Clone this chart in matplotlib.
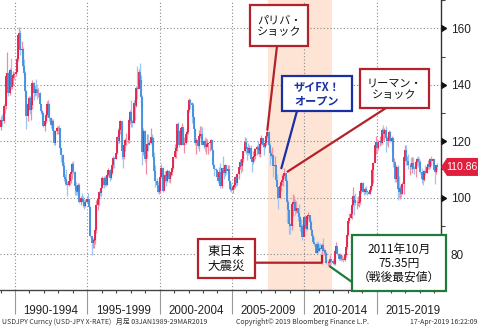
import matplotlib
matplotlib.use("Agg")
import numpy as np
import matplotlib.pyplot as plt
from matplotlib.patches import Rectangle, Polygon, ConnectionPatch
from matplotlib.transforms import blended_transform_factory

JP = ["Noto Sans CJK JP", "DejaVu Sans"]
NARROW = ["Liberation Sans Narrow", "Liberation Sans", "DejaVu Sans"]
FOOT = ["Liberation Sans Narrow", "Noto Sans CJK JP", "DejaVu Sans"]

# USD/JPY monthly bars, Jan 1989 - Mar 2019 (one row per year)
start_year = 1989
first_open = 125.0
monthly_close = [
    127.4, 127.0, 132.6, 132.5, 143.0, 144.1, 137.0, 145.3, 139.3, 142.5, 143.5, 143.8,
    144.5, 149.0, 157.6, 158.5, 152.3, 152.8, 146.5, 144.0, 137.8, 129.0, 133.3, 135.4,
    131.0, 132.8, 140.5, 137.0, 138.6, 138.0, 137.0, 137.2, 133.0, 130.6, 129.9, 125.2,
    127.2, 129.4, 133.0, 133.0, 128.2, 125.6, 127.2, 123.5, 119.5, 123.5, 124.5, 124.8,
    124.5, 117.7, 115.0, 111.1, 107.3, 106.5, 104.8, 104.5, 105.8, 108.5, 109.1, 111.8,
    109.0, 104.0, 102.5, 102.0, 104.3, 98.5, 100.0, 99.5, 98.5, 97.0, 98.5, 99.6,
    99.5, 96.6, 86.5, 84.0, 84.5, 84.8, 88.5, 97.5, 99.5, 102.0, 101.5, 103.3,
    107.0, 104.5, 107.0, 104.5, 108.0, 109.6, 106.8, 108.6, 111.5, 114.0, 113.8, 115.8,
    121.5, 120.2, 124.0, 127.0, 116.5, 114.5, 118.5, 120.5, 120.5, 120.5, 127.5, 130.5,
    127.0, 126.5, 133.5, 132.5, 139.0, 138.5, 144.5, 141.5, 135.5, 116.0, 123.5, 113.5,
    116.5, 119.0, 118.5, 119.5, 121.5, 121.0, 114.5, 109.5, 106.0, 104.5, 102.0, 102.2,
    107.3, 110.5, 102.5, 108.0, 107.8, 106.0, 109.5, 106.7, 108.0, 109.0, 110.5, 114.4,
    116.5, 117.4, 126.0, 123.5, 118.8, 124.7, 125.0, 118.8, 119.3, 122.4, 123.4, 131.0,
    134.7, 133.4, 132.7, 128.5, 124.2, 119.5, 120.5, 118.4, 121.8, 122.5, 122.4, 118.8,
    119.9, 117.8, 118.0, 119.0, 119.3, 119.8, 120.5, 116.8, 111.4, 110.0, 109.6, 107.2,
    105.9, 109.1, 104.2, 110.4, 109.5, 108.7, 111.4, 109.3, 110.1, 105.8, 103.2, 102.6,
    103.6, 104.6, 107.2, 105.0, 108.5, 110.9, 112.5, 111.1, 113.5, 116.4, 119.8, 117.8,
    117.2, 115.8, 117.7, 113.8, 112.5, 114.4, 114.6, 117.2, 118.0, 116.8, 115.6, 119.0,
    121.1, 118.6, 117.8, 119.5, 121.7, 123.2, 118.6, 115.8, 114.8, 115.2, 111.1, 111.7,
    106.4, 103.8, 99.7, 104.0, 105.5, 106.2, 107.8, 108.8, 106.0, 98.4, 95.5, 90.6,
    89.9, 97.6, 98.3, 98.6, 95.3, 96.4, 94.7, 93.0, 89.7, 90.1, 86.1, 93.0,
    90.3, 88.9, 93.5, 94.0, 91.3, 88.4, 86.5, 84.2, 83.5, 80.4, 83.7, 81.1,
    82.0, 81.8, 83.1, 81.2, 81.5, 80.5, 76.7, 76.7, 77.1, 78.2, 77.6, 76.9,
    76.3, 81.2, 82.9, 80.0, 78.4, 79.8, 78.1, 78.4, 77.9, 79.8, 82.5, 86.7,
    91.7, 92.6, 94.2, 97.4, 100.5, 99.1, 97.9, 98.2, 98.2, 98.4, 102.4, 105.3,
    102.0, 101.8, 103.2, 102.2, 101.8, 101.3, 102.8, 104.1, 109.6, 112.3, 118.6, 119.8,
    117.5, 119.6, 120.1, 119.4, 124.1, 122.4, 123.9, 121.2, 119.9, 120.6, 123.1, 120.2,
    121.1, 112.6, 112.6, 106.5, 110.7, 103.2, 102.1, 103.4, 101.4, 104.8, 114.5, 117.0,
    112.8, 112.8, 111.4, 111.5, 110.8, 112.4, 110.3, 110.0, 112.5, 113.7, 112.5, 112.7,
    109.2, 106.7, 106.3, 109.3, 108.8, 110.8, 111.9, 111.0, 113.7, 112.9, 113.5, 109.7,
    108.9, 111.4, 110.86,
]
monthly_high = [
    129.0, 129.5, 133.2, 134.0, 144.0, 151.5, 144.5, 146.0, 149.5, 143.5, 145.0, 144.5,
    146.0, 150.0, 158.0, 160.3, 159.5, 155.5, 153.5, 149.0, 145.0, 138.0, 133.8, 136.0,
    136.0, 134.0, 141.5, 141.0, 140.0, 142.0, 139.5, 139.0, 137.5, 133.0, 131.0, 130.5,
    127.5, 130.5, 134.2, 134.6, 133.5, 128.5, 128.0, 128.0, 124.0, 124.0, 125.5, 125.5,
    125.8, 124.5, 118.0, 115.5, 112.5, 108.5, 110.0, 105.8, 108.0, 108.8, 109.5, 112.5,
    113.0, 109.5, 105.5, 104.0, 105.0, 105.0, 100.5, 101.5, 100.5, 99.5, 99.5, 100.5,
    101.5, 99.5, 97.0, 86.0, 85.5, 85.5, 89.0, 99.0, 100.5, 102.5, 102.0, 103.5,
    107.5, 107.5, 107.5, 108.0, 108.5, 110.5, 110.0, 108.8, 111.8, 114.8, 114.5, 116.0,
    122.0, 124.8, 124.5, 127.5, 127.0, 116.5, 118.8, 121.0, 123.0, 122.5, 128.5, 131.0,
    134.5, 127.5, 134.5, 135.5, 139.5, 146.5, 145.5, 147.6, 143.5, 136.5, 124.5, 123.8,
    116.8, 122.5, 122.5, 120.5, 124.8, 122.5, 121.5, 116.0, 111.5, 107.0, 106.0, 104.0,
    107.5, 111.8, 111.0, 108.5, 109.5, 108.0, 110.0, 109.8, 108.5, 109.8, 111.2, 114.5,
    119.0, 118.0, 126.5, 126.8, 124.0, 125.0, 126.5, 125.0, 121.5, 123.5, 125.0, 131.5,
    135.2, 135.0, 133.8, 133.5, 128.5, 124.5, 121.0, 120.5, 124.0, 125.5, 125.5, 125.0,
    120.5, 121.5, 121.0, 120.8, 119.5, 120.0, 120.8, 120.5, 117.0, 111.8, 110.5, 109.8,
    107.5, 111.0, 112.2, 110.5, 114.8, 111.0, 112.0, 111.5, 111.5, 111.5, 106.0, 105.0,
    104.5, 106.0, 107.5, 108.0, 108.8, 111.0, 113.8, 112.0, 113.8, 116.5, 121.4, 121.0,
    117.8, 119.5, 118.8, 118.5, 114.0, 116.5, 117.5, 117.5, 118.5, 119.9, 118.0, 119.2,
    122.2, 121.0, 118.5, 120.0, 122.0, 124.1, 123.7, 119.5, 117.0, 117.9, 115.5, 114.7,
    109.7, 108.5, 103.8, 105.0, 106.0, 108.5, 108.5, 110.6, 108.5, 106.5, 99.0, 96.0,
    91.0, 98.5, 101.4, 100.5, 99.5, 98.8, 95.5, 97.8, 93.5, 92.3, 90.5, 93.1,
    93.7, 91.5, 93.8, 94.9, 94.0, 92.0, 89.0, 87.0, 85.9, 84.0, 84.3, 84.5,
    83.7, 84.0, 84.0, 85.5, 82.0, 81.5, 81.0, 77.8, 77.8, 79.5, 78.2, 78.3,
    77.8, 81.5, 84.2, 82.0, 80.5, 80.5, 79.9, 79.5, 78.9, 80.3, 82.8, 86.7,
    91.8, 94.5, 96.7, 99.9, 103.7, 100.9, 101.5, 99.0, 100.6, 99.0, 102.6, 105.4,
    105.4, 102.8, 103.8, 104.1, 102.8, 102.8, 103.2, 104.5, 110.1, 112.5, 118.9, 121.8,
    120.5, 120.5, 122.0, 120.8, 124.5, 125.9, 124.6, 125.3, 121.7, 121.5, 123.8, 123.6,
    121.7, 121.5, 114.0, 112.0, 111.5, 111.5, 107.5, 104.3, 104.2, 105.5, 114.8, 118.7,
    118.6, 114.9, 115.5, 112.2, 114.4, 114.5, 114.5, 111.1, 113.3, 114.5, 114.7, 114.0,
    113.4, 110.5, 107.0, 109.8, 111.4, 110.9, 113.2, 111.8, 113.9, 114.6, 114.2, 113.8,
    110.0, 111.5, 112.1,
]
monthly_low = [
    123.8, 125.5, 126.5, 130.0, 131.5, 138.0, 136.0, 136.5, 138.5, 138.5, 140.0, 142.0,
    143.0, 144.5, 148.5, 155.0, 150.5, 151.5, 145.5, 143.0, 135.5, 124.2, 127.0, 131.0,
    129.5, 127.5, 131.5, 134.5, 136.0, 136.5, 135.0, 135.5, 132.5, 129.5, 128.0, 125.0,
    123.5, 126.5, 128.5, 131.0, 127.0, 124.5, 124.5, 122.5, 118.5, 118.5, 122.5, 122.5,
    123.0, 116.5, 112.5, 110.0, 106.0, 104.5, 104.5, 100.4, 104.0, 104.5, 105.0, 106.5,
    108.5, 101.0, 101.0, 101.0, 101.5, 98.0, 97.5, 98.5, 96.5, 96.0, 96.5, 98.0,
    98.0, 96.5, 86.0, 79.8, 82.0, 82.0, 83.5, 87.5, 95.5, 97.5, 100.5, 100.5,
    103.3, 103.5, 104.0, 104.0, 104.5, 107.5, 106.0, 106.5, 108.5, 110.5, 110.5, 113.5,
    115.5, 119.5, 119.5, 122.5, 113.5, 110.6, 113.5, 116.5, 118.5, 119.5, 119.5, 126.0,
    125.0, 125.0, 126.5, 127.5, 132.0, 135.0, 139.0, 140.5, 132.5, 111.5, 115.0, 112.5,
    108.5, 114.0, 116.5, 118.5, 119.0, 118.0, 113.5, 109.0, 103.8, 104.0, 101.5, 101.2,
    101.5, 107.0, 102.0, 103.5, 105.5, 104.0, 105.5, 105.5, 105.0, 107.5, 108.0, 110.0,
    114.0, 114.0, 116.5, 120.5, 118.0, 118.5, 122.0, 118.5, 115.8, 119.0, 120.5, 122.5,
    130.5, 131.5, 126.5, 127.5, 123.0, 118.5, 115.5, 117.5, 116.5, 121.0, 120.5, 118.5,
    117.5, 116.5, 115.5, 117.8, 115.5, 116.5, 117.5, 116.5, 110.8, 107.5, 107.5, 106.8,
    105.0, 104.5, 103.5, 103.5, 108.5, 106.5, 107.5, 108.5, 108.5, 105.5, 102.5, 101.8,
    101.7, 103.0, 103.5, 104.2, 104.5, 106.5, 110.0, 108.8, 109.5, 112.5, 116.0, 115.5,
    113.4, 115.0, 115.5, 113.5, 108.9, 111.8, 113.0, 113.8, 115.0, 116.5, 114.8, 114.5,
    118.5, 118.0, 115.2, 117.5, 118.5, 121.0, 118.5, 111.6, 114.0, 114.0, 107.2, 110.5,
    105.5, 103.0, 95.8, 99.8, 102.5, 104.5, 104.0, 107.0, 103.5, 90.9, 92.5, 87.1,
    87.1, 88.5, 93.5, 95.5, 94.0, 94.5, 91.8, 92.5, 88.2, 88.0, 84.8, 86.5,
    89.5, 88.2, 88.5, 92.5, 89.0, 88.0, 86.0, 83.6, 82.8, 80.2, 80.3, 80.5,
    81.0, 81.5, 76.3, 81.0, 79.5, 79.7, 76.5, 75.9, 75.6, 75.35, 76.5, 76.5,
    76.0, 76.0, 80.8, 79.8, 78.0, 77.7, 77.6, 78.0, 77.1, 77.6, 79.1, 81.7,
    86.5, 91.0, 92.6, 92.5, 97.0, 93.8, 97.5, 95.8, 96.9, 96.6, 97.6, 101.6,
    101.8, 100.8, 101.2, 101.4, 100.8, 101.1, 101.1, 102.4, 104.0, 105.2, 112.5, 115.6,
    115.9, 116.8, 118.3, 118.5, 118.9, 120.4, 120.4, 116.2, 118.7, 118.1, 120.1, 119.7,
    116.5, 111.0, 110.7, 105.5, 105.5, 99.0, 100.0, 99.5, 100.1, 101.2, 101.2, 113.0,
    111.6, 111.7, 110.1, 108.1, 110.2, 108.8, 110.0, 108.3, 107.3, 111.7, 110.8, 112.0,
    108.3, 105.3, 104.6, 105.9, 108.1, 108.8, 110.3, 109.8, 110.4, 111.4, 111.4, 109.6,
    104.8, 108.4, 109.7,
]

period_starts = [1990, 1995, 2000, 2005, 2010, 2015]
period_labels = ["1990-1994", "1995-1999", "2000-2004", "2005-2009", "2010-2014", "2015-2019"]
price_ticks = [80, 100, 120, 140, 160]
shaded_years = (2007.5, 2011.95)

RED = "#E31C48"
BLUE = "#3E8EDE"
RED_WICK = "#F28CA3"
BLUE_WICK = "#9CC6F0"
BOX_RED = "#B3222B"
BOX_BLUE = "#1A2FA3"
BOX_GREEN = "#1F7A3C"

W, H = 478, 330
fig = plt.figure(figsize=(W / 100, H / 100), dpi=100)
ax = fig.add_axes([0, 40 / H, 441 / W, 290 / H])
ax.set_xlim(1988.963, 2019.46)
ax.set_ylim(67.24, 170.03)

# candles
closes = np.array(monthly_close)
highs = np.array(monthly_high)
lows = np.array(monthly_low)
opens = np.r_[first_open, closes[:-1]]
t = start_year + (np.arange(len(closes)) + 0.5) / 12.0
up = closes >= opens

ax.axvspan(*shaded_years, color="#FDE4D5", lw=0, zorder=0)
ax.vlines(t[up], lows[up], highs[up], color=RED_WICK, lw=0.9, zorder=2)
ax.vlines(t[~up], lows[~up], highs[~up], color=BLUE_WICK, lw=0.9, zorder=2)
ax.vlines(t[up], opens[up], closes[up], color=RED, lw=1.3, zorder=3)
ax.vlines(t[~up], opens[~up], closes[~up], color=BLUE, lw=1.3, zorder=3)

# axes styling
for side in ("top", "left"):
    ax.spines[side].set_visible(False)
ax.spines["right"].set_color("#333333")
ax.spines["bottom"].set_color("#444444")
ax.spines["right"].set_linewidth(1.0)
ax.spines["bottom"].set_linewidth(1.0)

ax.yaxis.tick_right()
ax.set_yticks(price_ticks)
ax.set_yticks(np.arange(70, 171, 10), minor=True)
ax.tick_params(axis="y", which="major", length=0, pad=7, labelsize=8.5, labelcolor="#222222")
ax.tick_params(axis="y", which="minor", length=3, width=0.8, color="#444444")
for lbl in ax.get_yticklabels():
    lbl.set_family(NARROW)

ax.set_xticks(period_starts)
ax.set_xticks(np.arange(1989, 2020), minor=True)
ax.tick_params(axis="x", which="major", length=17, width=0.8, color="#999999", labelbottom=False)
ax.tick_params(axis="x", which="minor", length=2.5, width=0.8, color="#444444")
ax.grid(True, which="major", axis="both", color="#8A8A8A", lw=0.8, ls=(0, (1, 2)))
ax.set_axisbelow(True)

# price tick arrows on the right axis
ytrans = blended_transform_factory(ax.transAxes, ax.transData)
ax.plot(np.ones(len(price_ticks)), price_ticks, transform=ytrans, ls="none",
        marker=9, ms=5, color="#111111", clip_on=False, zorder=5)

# period labels under the axis
xtrans = blended_transform_factory(ax.transData, ax.transAxes)
for start, lab in zip(period_starts, period_labels):
    ax.text(start + 2.5, -21 / 290, lab, transform=xtrans, ha="center", va="center",
            fontsize=8.3, family=NARROW, color="#222222")


def fx(px):
    return px / W


def fy(py):
    return 1 - py / H


def box(x0, y0, x1, y1, edge):
    fig.add_artist(Rectangle((fx(x0), fy(y1)), (x1 - x0) / W, (y1 - y0) / H,
                             transform=fig.transFigure, facecolor="white",
                             edgecolor=edge, lw=1.6, zorder=10))


def pointer(px, py, x, y, color):
    fig.add_artist(ConnectionPatch(xyA=(fx(px), fy(py)), coordsA=fig.transFigure,
                                   xyB=(x, y), coordsB=ax.transData,
                                   color=color, lw=1.6, zorder=9))


def label(cx, cy, s, size, color="#111111", weight="normal", spacing=1.15):
    fig.text(fx(cx), fy(cy), s, ha="center", va="center", fontsize=size, family=JP,
             color=color, fontweight=weight, linespacing=spacing, zorder=11)


# BNP Paribas shock
pointer(277, 46, 2007.45, 124.0, BOX_RED)
box(250, 5, 308, 46, BOX_RED)
label(279, 26, "パリバ・\nショック", 8)

# ZAi FX! launch
pointer(297, 111, 2008.42, 110.4, BOX_BLUE)
box(282, 76, 352, 111, BOX_BLUE)
label(317, 94, "ザイFX！\nオープン", 8, color=BOX_BLUE, weight="bold")

# Lehman shock
pointer(386, 108, 2008.85, 109.2, BOX_RED)
box(360, 69, 429, 108, BOX_RED)
label(394.5, 89, "リーマン・\nショック", 8)

# Great East Japan Earthquake
pointer(255, 262.7, 2011.21, 76.9, BOX_RED)
ax.plot([2011.21, 2011.21], [76.9, 79.6], color=BOX_RED, lw=1.6, zorder=6, solid_capstyle="butt")
box(198, 239, 255, 278, BOX_RED)
label(226.5, 259, "東日本\n大震災", 9, spacing=1.2)

# Record low, Oct 2011
pointer(352, 282, 2011.78, 75.6, BOX_GREEN)
box(352, 235, 446, 291, BOX_GREEN)
label(399, 263, "2011年10月\n75.35円\n（戦後最安値）", 8.5, spacing=1.1)

# last price tag
last = monthly_close[-1]
py_last = H - ax.transData.transform((2019.0, last))[1]
tag = [(441, py_last), (447, py_last - 9), (478, py_last - 9), (478, py_last + 9), (447, py_last + 9)]
fig.add_artist(Polygon([(fx(a), fy(b)) for a, b in tag], closed=True, transform=fig.transFigure,
                       facecolor="#E01F3D", edgecolor="none", zorder=10))
fig.text(fx(461.5), fy(py_last), f"{last:.2f}", ha="center", va="center", fontsize=7.6,
         family=NARROW, color="white", zorder=11)

# footer
fig.text(fx(2), fy(322), "USDJPY Curncy (USD-JPY X-RATE)   月足 03JAN1989-29MAR2019",
         fontsize=5, family=FOOT, color="#333333", va="center", ha="left")
fig.text(fx(236), fy(322), "Copyright© 2019 Bloomberg Finance L.P.",
         fontsize=5, family=FOOT, color="#333333", va="center", ha="left")
fig.text(fx(477), fy(322), "17-Apr-2019 16:22:09",
         fontsize=5, family=FOOT, color="#333333", va="center", ha="right")

fig.savefig("out.png", dpi=100, facecolor="white")
